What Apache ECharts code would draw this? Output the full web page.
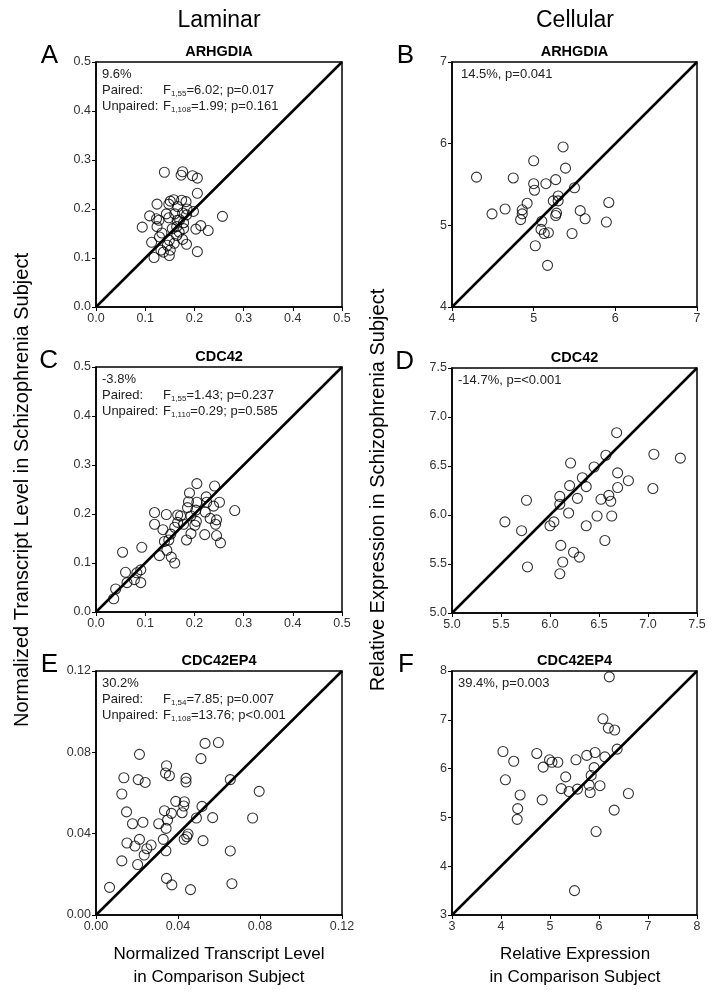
<!DOCTYPE html>
<html>
<head>
<meta charset="utf-8">
<script src="https://cdn.jsdelivr.net/npm/echarts@6/dist/echarts.min.js"></script>
<style>
  html, body { margin: 0; padding: 0; background: #fff; }
  #main { width: 717px; height: 998px; }
</style>
</head>
<body>
<div id="main"></div>
<script>
// 数据
var arhgdiaLaminar = [
  [0.139, 0.275], [0.176, 0.276], [0.173, 0.269], [0.196, 0.268], [0.206, 0.263],
  [0.206, 0.232], [0.158, 0.219], [0.151, 0.216], [0.124, 0.210], [0.148, 0.210],
  [0.174, 0.218], [0.183, 0.215], [0.166, 0.205], [0.198, 0.195], [0.176, 0.192],
  [0.143, 0.190], [0.184, 0.188], [0.109, 0.186], [0.257, 0.185], [0.123, 0.180],
  [0.148, 0.182], [0.165, 0.177], [0.128, 0.177], [0.178, 0.172], [0.094, 0.163],
  [0.124, 0.164], [0.164, 0.164], [0.178, 0.160], [0.203, 0.159], [0.213, 0.166],
  [0.228, 0.156], [0.134, 0.151], [0.164, 0.146], [0.129, 0.143], [0.149, 0.136],
  [0.176, 0.138], [0.113, 0.132], [0.159, 0.130], [0.184, 0.128], [0.132, 0.116],
  [0.151, 0.116], [0.206, 0.113], [0.118, 0.101], [0.149, 0.105], [0.137, 0.112],
  [0.169, 0.153], [0.160, 0.190], [0.170, 0.178], [0.155, 0.160], [0.145, 0.126],
  [0.185, 0.200]
];
var arhgdiaCellular = [
  [4.30, 5.59], [4.75, 5.58], [5.00, 5.79], [5.36, 5.96], [5.39, 5.70],
  [5.00, 5.51], [5.01, 5.43], [5.15, 5.51], [5.27, 5.56], [5.50, 5.46],
  [4.92, 5.27], [4.65, 5.20], [4.49, 5.14], [4.86, 5.19], [4.86, 5.14],
  [4.84, 5.07], [5.30, 5.36], [5.24, 5.30], [5.30, 5.30], [5.28, 5.15],
  [5.27, 5.12], [5.10, 5.05], [5.09, 4.95], [5.18, 4.91], [5.13, 4.90],
  [5.57, 5.18], [5.63, 5.08], [5.92, 5.28], [5.89, 5.04], [5.47, 4.90],
  [5.02, 4.75], [5.17, 4.51]
];
var cdc42Laminar = [
  [0.205, 0.262], [0.241, 0.257], [0.190, 0.243], [0.224, 0.235], [0.188, 0.225],
  [0.205, 0.224], [0.225, 0.224], [0.251, 0.224], [0.239, 0.216], [0.186, 0.213],
  [0.203, 0.208], [0.282, 0.207], [0.119, 0.203], [0.143, 0.199], [0.166, 0.198],
  [0.172, 0.196], [0.222, 0.204], [0.193, 0.196], [0.232, 0.191], [0.204, 0.185],
  [0.166, 0.183], [0.245, 0.188], [0.119, 0.179], [0.178, 0.179], [0.201, 0.177],
  [0.243, 0.179], [0.160, 0.173], [0.136, 0.168], [0.152, 0.159], [0.193, 0.160],
  [0.221, 0.158], [0.245, 0.156], [0.184, 0.147], [0.148, 0.147], [0.253, 0.141],
  [0.139, 0.144], [0.093, 0.132], [0.144, 0.126], [0.054, 0.122], [0.129, 0.115],
  [0.153, 0.112], [0.160, 0.100], [0.060, 0.081], [0.091, 0.086], [0.083, 0.080],
  [0.063, 0.060], [0.078, 0.066], [0.091, 0.060], [0.040, 0.047], [0.036, 0.027]
];
var cdc42Cellular = [
  [6.68, 6.84], [6.57, 6.61], [7.06, 6.62], [6.21, 6.53], [6.45, 6.49],
  [6.69, 6.43], [6.33, 6.38], [6.80, 6.35], [6.20, 6.30], [6.37, 6.29],
  [6.69, 6.28], [7.05, 6.27], [6.28, 6.17], [6.60, 6.20], [6.52, 6.16],
  [6.62, 6.14], [5.76, 6.15], [6.10, 6.19], [6.10, 6.11], [6.19, 6.02],
  [6.48, 5.99], [6.63, 5.99], [5.54, 5.93], [6.04, 5.93], [6.00, 5.89],
  [6.37, 5.89], [5.71, 5.84], [6.56, 5.74], [6.11, 5.69], [6.24, 5.62],
  [6.30, 5.57], [6.13, 5.52], [5.77, 5.47], [6.10, 5.40], [7.33, 6.58]
];
var cdc42ep4Laminar = [
  [0.0532, 0.0844], [0.0597, 0.0848], [0.0212, 0.0790], [0.0512, 0.0769], [0.0344, 0.0734],
  [0.0339, 0.0698], [0.0358, 0.0685], [0.0136, 0.0675], [0.0206, 0.0666], [0.0240, 0.0652],
  [0.0439, 0.0672], [0.0439, 0.0654], [0.0655, 0.0666], [0.0796, 0.0608], [0.0126, 0.0595],
  [0.0389, 0.0559], [0.0431, 0.0557], [0.0428, 0.0536], [0.0517, 0.0534], [0.0149, 0.0507],
  [0.0334, 0.0513], [0.0368, 0.0500], [0.0420, 0.0503], [0.0490, 0.0477], [0.0569, 0.0479],
  [0.0764, 0.0477], [0.0178, 0.0449], [0.0229, 0.0456], [0.0306, 0.0449], [0.0349, 0.0467],
  [0.0342, 0.0426], [0.0443, 0.0385], [0.0449, 0.0398], [0.0430, 0.0372], [0.0328, 0.0372],
  [0.0522, 0.0366], [0.0151, 0.0354], [0.0212, 0.0372], [0.0190, 0.0339], [0.0269, 0.0344],
  [0.0248, 0.0326], [0.0235, 0.0295], [0.0341, 0.0316], [0.0655, 0.0315], [0.0126, 0.0266],
  [0.0203, 0.0248], [0.0344, 0.0180], [0.0370, 0.0148], [0.0461, 0.0125], [0.0663, 0.0154],
  [0.0066, 0.0136]
];
var cdc42ep4Cellular = [
  [6.21, 7.88], [6.08, 7.02], [6.19, 6.83], [6.32, 6.79], [6.37, 6.40],
  [4.04, 6.35], [4.73, 6.31], [4.26, 6.15], [4.99, 6.18], [5.04, 6.13],
  [5.16, 6.13], [5.53, 6.18], [5.75, 6.27], [5.92, 6.33], [6.12, 6.24],
  [4.86, 6.03], [5.90, 6.02], [4.09, 5.77], [5.32, 5.83], [5.84, 5.86],
  [5.23, 5.59], [5.39, 5.53], [5.56, 5.58], [5.80, 5.66], [6.02, 5.65],
  [5.82, 5.51], [4.39, 5.46], [4.84, 5.36], [6.60, 5.49], [4.34, 5.18],
  [4.33, 4.96], [6.31, 5.15], [5.94, 4.71], [5.50, 3.50]
];

var panelLetters = ['A', 'B', 'C', 'D', 'E', 'F'];
var geneNames = ['ARHGDIA', 'ARHGDIA', 'CDC42', 'CDC42', 'CDC42EP4', 'CDC42EP4'];
var axisMin = [0, 4, 0, 5.0, 0, 3];
var axisMax = [0.5, 7, 0.5, 7.5, 0.12, 8];
var axisStep = [0.1, 1, 0.1, 0.5, 0.04, 1];
var labelDigits = [1, 0, 1, 1, 2, 0];
var panelData = [arhgdiaLaminar, arhgdiaCellular, cdc42Laminar, cdc42Cellular, cdc42ep4Laminar, cdc42ep4Cellular];

// 注释文字
var pctText = ['9.6%', '14.5%, p=0.041', '-3.8%', '-14.7%, p=<0.001', '30.2%', '39.4%, p=0.003'];
var pairedDf = ['1,55', null, '1,55', null, '1,54', null];
var pairedStat = ['=6.02; p=0.017', null, '=1.43; p=0.237', null, '=7.85; p=0.007', null];
var unpairedDf = ['1,108', null, '1,110', null, '1,108', null];
var unpairedStat = ['=1.99; p=0.161', null, '=0.29; p=0.585', null, '=13.76; p<0.001', null];

var FONT = '"Liberation Sans", Arial, sans-serif';
var gridBox = [
  {left: 96, top: 62, width: 246, height: 245},
  {left: 452, top: 62, width: 245, height: 245},
  {left: 96, top: 367, width: 246, height: 245},
  {left: 452, top: 368, width: 245, height: 245},
  {left: 96, top: 671, width: 246, height: 244},
  {left: 452, top: 671, width: 245, height: 244}
];

var myChart = echarts.init(document.getElementById('main'));

var grids = [], xAxes = [], yAxes = [], series = [], graphics = [];

function makeAxis(i) {
  var d = labelDigits[i];
  return {
    gridIndex: i,
    type: 'value',
    min: axisMin[i],
    max: axisMax[i],
    interval: axisStep[i],
    splitLine: {show: false},
    axisLine: {show: true, onZero: false, lineStyle: {color: '#000', width: 1.5}},
    axisTick: {show: true, inside: false, length: 4, lineStyle: {color: '#000', width: 1}},
    axisLabel: {
      color: '#333', fontSize: 12.5, fontFamily: FONT, margin: 5,
      formatter: function (v) { return Number(v).toFixed(d); }
    }
  };
}

var richStyle = {
  t: {fontSize: 13, fontFamily: FONT, lineHeight: 16, fill: '#222'},
  lab: {fontSize: 13, fontFamily: FONT, lineHeight: 16, fill: '#222', width: 61},
  sub: {fontSize: 8, fontFamily: FONT, lineHeight: 8, verticalAlign: 'bottom', fill: '#222'}
};

for (var i = 0; i < 6; i++) {
  var g = gridBox[i];
  grids.push({
    left: g.left, top: g.top, width: g.width, height: g.height,
    show: true, borderColor: '#000', borderWidth: 1.5, backgroundColor: 'transparent'
  });
  xAxes.push(makeAxis(i));
  yAxes.push(makeAxis(i));

  // 对角线
  series.push({
    type: 'line',
    xAxisIndex: i, yAxisIndex: i,
    data: [[axisMin[i], axisMin[i]], [axisMax[i], axisMax[i]]],
    symbol: 'none',
    lineStyle: {color: '#000', width: 2.5},
    silent: true
  });
  series.push({
    type: 'scatter',
    xAxisIndex: i, yAxisIndex: i,
    data: panelData[i],
    symbol: 'circle',
    symbolSize: 10,
    itemStyle: {color: 'rgba(255,255,255,0)', borderColor: '#000', borderWidth: 1.1}
  });

  // 字母, 基因名
  graphics.push({
    type: 'text', x: g.left - 38, y: g.top - 6,
    style: {text: panelLetters[i], font: '26px ' + FONT, fill: '#000', align: 'right', verticalAlign: 'middle'}
  });
  graphics.push({
    type: 'text', x: g.left + g.width / 2, y: g.top - 10,
    style: {text: geneNames[i], font: 'bold 14.5px ' + FONT, fill: '#000', align: 'center', verticalAlign: 'middle'}
  });

  var txt = '{t|' + pctText[i] + '}';
  if (pairedDf[i]) {
    txt += '\n{lab|Paired:}{t|F}{sub|' + pairedDf[i] + '}{t|' + pairedStat[i] + '}';
    txt += '\n{lab|Unpaired:}{t|F}{sub|' + unpairedDf[i] + '}{t|' + unpairedStat[i] + '}';
  }
  graphics.push({
    type: 'text', x: g.left + (i === 1 ? 9 : 6), y: g.top + 4,
    style: {text: txt, rich: richStyle, font: '13px ' + FONT, fill: '#222'}
  });
}

// 列标题, 轴标题
graphics.push(
  {type: 'text', x: 219, y: 21, style: {text: 'Laminar', font: '23px ' + FONT, fill: '#000', align: 'center', verticalAlign: 'middle'}},
  {type: 'text', x: 575, y: 21, style: {text: 'Cellular', font: '23px ' + FONT, fill: '#000', align: 'center', verticalAlign: 'middle'}},
  {type: 'text', x: 22, y: 490, rotation: Math.PI / 2,
   style: {text: 'Normalized Transcript Level in Schizophrenia Subject', font: '20px ' + FONT, fill: '#000', align: 'center', verticalAlign: 'middle'}},
  {type: 'text', x: 378, y: 490, rotation: Math.PI / 2,
   style: {text: 'Relative Expression in Schizophrenia Subject', font: '20px ' + FONT, fill: '#000', align: 'center', verticalAlign: 'middle'}},
  {type: 'text', x: 219, y: 966, style: {text: 'Normalized Transcript Level\nin Comparison Subject', font: '17px ' + FONT, lineHeight: 23, fill: '#000', align: 'center', verticalAlign: 'middle'}},
  {type: 'text', x: 575, y: 966, style: {text: 'Relative Expression\nin Comparison Subject', font: '17px ' + FONT, lineHeight: 23, fill: '#000', align: 'center', verticalAlign: 'middle'}}
);

var option = {
  animation: false,
  backgroundColor: '#fff',
  grid: grids,
  xAxis: xAxes,
  yAxis: yAxes,
  series: series,
  graphic: graphics
};
myChart.setOption(option);
window.addEventListener('resize', function () {
  myChart.resize();
});
</script>
</body>
</html>
